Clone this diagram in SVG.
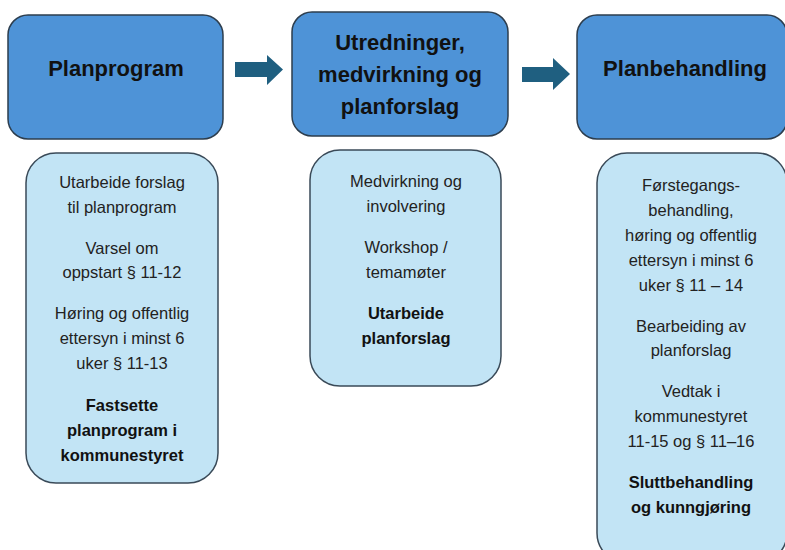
<svg xmlns="http://www.w3.org/2000/svg" width="785" height="550" viewBox="0 0 785 550">
<style>
.head{fill:#4e93d7;stroke:#2d3e4e;stroke-width:1.5}
.sub{fill:#c2e4f5;stroke:#3a4a58;stroke-width:1.5}
.arrow{fill:#1f5f80}
.t{font-family:"Liberation Sans",Arial,sans-serif;fill:#111;text-anchor:middle;font-weight:bold;font-size:22px}
.b{font-family:"Liberation Sans",Arial,sans-serif;fill:#222;text-anchor:middle;font-size:16.5px}
.bb{font-weight:bold;fill:#111}
</style>
<rect width="785" height="550" fill="#ffffff"/>
<g id="connectors">
<polygon class="arrow" points="235,62 267,62 267,55 283,69.5 267,85 267,77 235,77"/>
<polygon class="arrow" points="522,67 553,67 553,58 570,74 553,90 553,82 522,82"/>
</g>
<g id="planprogram">
<rect class="head" x="8" y="15" width="215" height="124" rx="20"/>
<text class="t" x="116" y="76">Planprogram</text>
</g>
<g id="utredninger">
<rect class="head" x="292" y="12" width="216" height="124" rx="20"/>
<text class="t" x="400" y="50">Utredninger,</text>
<text class="t" x="400" y="82">medvirkning og</text>
<text class="t" x="400" y="114">planforslag</text>
</g>
<g id="planbehandling">
<rect class="head" x="577" y="15" width="210" height="124" rx="20"/>
<text class="t" x="685" y="76">Planbehandling</text>
</g>
<g id="planprogram-steg">
<rect class="sub" x="26" y="153" width="192" height="330" rx="30"/>
<text class="b" x="122" y="188">Utarbeide forslag</text>
<text class="b" x="122" y="213">til planprogram</text>
<text class="b" x="122" y="254">Varsel om</text>
<text class="b" x="122" y="278">oppstart § 11-12</text>
<text class="b" x="122" y="319">Høring og offentlig</text>
<text class="b" x="122" y="344">ettersyn i minst 6</text>
<text class="b" x="122" y="369">uker § 11-13</text>
<text class="b bb" x="122" y="411">Fastsette</text>
<text class="b bb" x="122" y="436">planprogram i</text>
<text class="b bb" x="122" y="461">kommunestyret</text>
</g>
<g id="utredninger-steg">
<rect class="sub" x="310" y="150" width="191" height="236" rx="30"/>
<text class="b" x="406" y="187">Medvirkning og</text>
<text class="b" x="406" y="212">involvering</text>
<text class="b" x="406" y="253">Workshop /</text>
<text class="b" x="406" y="278">temamøter</text>
<text class="b bb" x="406" y="319">Utarbeide</text>
<text class="b bb" x="406" y="344">planforslag</text>
</g>
<g id="planbehandling-steg">
<rect class="sub" x="597" y="153" width="190" height="410" rx="30"/>
<text class="b" x="691" y="191">Førstegangs-</text>
<text class="b" x="691" y="216">behandling,</text>
<text class="b" x="691" y="241">høring og offentlig</text>
<text class="b" x="691" y="266">ettersyn i minst 6</text>
<text class="b" x="691" y="291">uker § 11 – 14</text>
<text class="b" x="691" y="332">Bearbeiding av</text>
<text class="b" x="691" y="356">planforslag</text>
<text class="b" x="691" y="397">Vedtak i</text>
<text class="b" x="691" y="422">kommunestyret</text>
<text class="b" x="691" y="447">11-15 og § 11–16</text>
<text class="b bb" x="691" y="488">Sluttbehandling</text>
<text class="b bb" x="691" y="513">og kunngjøring</text>
</g>
</svg>
